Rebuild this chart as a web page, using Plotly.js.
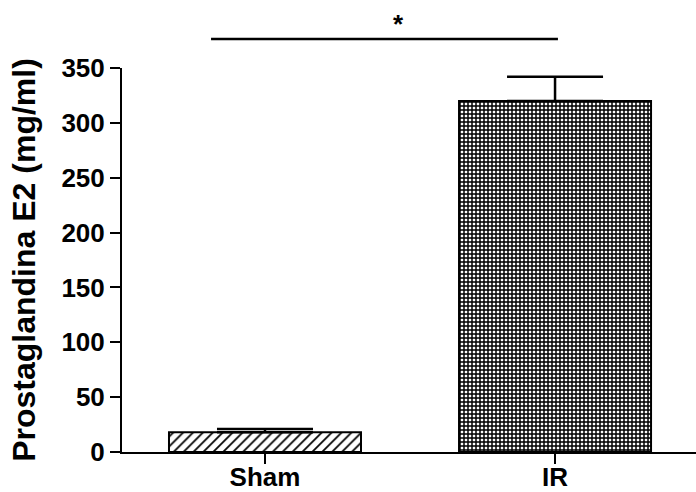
<!DOCTYPE html>
<html>
<head>
<meta charset="utf-8">
<script src="https://cdn.plot.ly/plotly-3.0.1.min.js"></script>
<style>html,body{margin:0;padding:0;background:#fff;}#chart{width:696px;height:492px;}</style>
</head>
<body>
<div id="chart"></div>
<script>
var categories = ["Sham", "IR"];
var values = [18, 320];
var errors = [3, 22];
var yTicks = [0, 50, 100, 150, 200, 250, 300, 350];
var yTitle = "Prostaglandina E2 (mg/ml)";
var sigLabel = "*";

var FONT = "Liberation Sans, Arial, sans-serif";

var traces = [
  {
    type: "bar",
    x: [categories[0]],
    y: [values[0]],
    width: 0.662,
    marker: {
      color: "#ffffff",
      line: {color: "#000000", width: 2},
      pattern: {shape: "/", size: 7, solidity: 0.25, fgcolor: "#000000", bgcolor: "#ffffff"}
    },
    error_y: {type: "data", symmetric: false, array: [errors[0]], arrayminus: [0], color: "#000000", thickness: 2.5, width: 48},
    hoverinfo: "none"
  },
  {
    type: "bar",
    x: [categories[1]],
    y: [values[1]],
    width: 0.662,
    marker: {
      color: "#ffffff",
      line: {color: "#000000", width: 2},
      pattern: {shape: "+", size: 4, solidity: 0.6, fgcolor: "#000000", bgcolor: "#ffffff"}
    },
    error_y: {type: "data", symmetric: false, array: [errors[1]], arrayminus: [0], color: "#000000", thickness: 2.5, width: 48},
    hoverinfo: "none"
  }
];

var layout = {
  width: 696,
  height: 492,
  margin: {l: 122, r: 0, t: 68, b: 40, pad: 0},
  paper_bgcolor: "#ffffff",
  plot_bgcolor: "#ffffff",
  showlegend: false,
  barmode: "overlay",
  font: {family: FONT, color: "#000000"},
  xaxis: {
    type: "category",
    categoryorder: "array",
    categoryarray: categories,
    range: [-0.493, 1.486],
    showline: true, linecolor: "#000000", linewidth: 2,
    ticks: "outside", ticklen: 10, tickwidth: 2, tickcolor: "#000000",
    ticklabelstandoff: -9,
    showgrid: false, zeroline: false,
    tickfont: {family: FONT, size: 26, color: "#000000", weight: "bold"}
  },
  yaxis: {
    range: [0, 350],
    tickvals: yTicks,
    ticktext: yTicks.map(String),
    showline: true, linecolor: "#000000", linewidth: 2,
    ticks: "outside", ticklen: 10, tickwidth: 2, tickcolor: "#000000",
    showgrid: false, zeroline: false,
    tickfont: {family: FONT, size: 26, color: "#000000", weight: "bold"},
    title: {text: yTitle, font: {family: FONT, size: 32, color: "#000000", weight: "bold"}, standoff: 16}
  },
  shapes: [
    {type: "line", xref: "x", yref: "paper", x0: -0.186, x1: 1.01, y0: 1.0755, y1: 1.0755, line: {color: "#000000", width: 2.5}}
  ],
  annotations: [
    {xref: "x", yref: "paper", x: 0.462, y: 1.115, text: sigLabel, showarrow: false, font: {family: FONT, size: 26, color: "#000000", weight: "bold"}, yanchor: "middle"}
  ]
};

Plotly.newPlot("chart", traces, layout, {staticPlot: true, displayModeBar: false});
</script>
</body>
</html>
